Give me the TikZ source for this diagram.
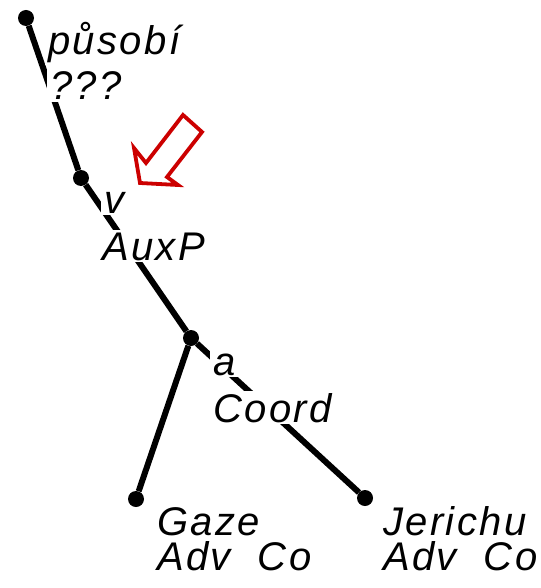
\documentclass[tikz,border=0pt]{standalone}
\usepackage{fontspec}
\setmainfont{Liberation Sans}
\newfontfamily\lblfont[LetterSpace=6]{Liberation Sans}
\definecolor{hintred}{RGB}{204,0,0}
\begin{document}
\begin{tikzpicture}[x=1pt,y=-1pt,
  dot/.style={circle,fill=black,inner sep=0pt,minimum size=16pt},
  edge/.style={line width=6pt},
  lbl/.style={anchor=base west,inner xsep=3pt,inner ysep=2pt,fill=white,
    font=\lblfont\itshape\fontsize{40}{40}\selectfont},
  leaflbl/.style={lbl,align=left,inner ysep=1pt,
    font=\lblfont\itshape\fontsize{40}{35}\selectfont},
  hint/.style={draw=hintred,line width=3.8pt,line join=miter}]
  \useasboundingbox (0,0) rectangle (540,588);
  % tree points
  \node[dot] (root) at (26,18) {};
  \node[dot] (v) at (81,178) {};
  \node[dot] (a) at (191,338) {};
  \node[dot] (gaze) at (136,499) {};
  \node[dot] (jer) at (365,498) {};
  \draw[edge] (root) -- (v);
  \draw[edge] (v) -- (a);
  \draw[edge] (a) -- (gaze);
  \draw[edge] (a) -- (jer);
  % labels
  \node[lbl] (rootForm) at (45,55) {působí};
  \node[lbl] (rootFn) at (47,100) {???};
  \node[lbl] (vForm) at (101,213) {v};
  \node[lbl] (vFn) at (99,260) {AuxP};
  \node[lbl] (aForm) at (210,375) {a};
  \node[lbl] (aFn) at (210,422) {Coord};
  % leaf labels: base is the last line
  \node[leaflbl] (gazeLbl) at (154,570) {Gaze\\Adv\ \ Co};
  \node[leaflbl] (jerLbl) at (380,570) {Jerichu\\Adv\ \ Co};
  % red pointer
  \draw[hint] (183,115) -- (202,132) -- (167,177) -- (178,185)
    -- (140,183) -- (134,148) -- (146,163) -- cycle;
\end{tikzpicture}
\end{document}
